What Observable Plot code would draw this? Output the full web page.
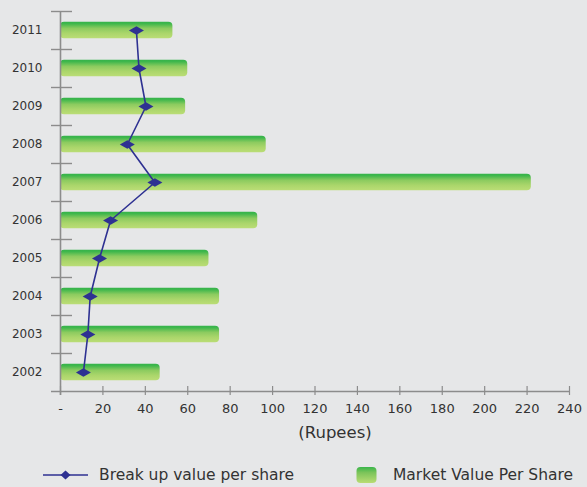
<!DOCTYPE html>
<html>
<head>
<meta charset="utf-8">
<script src="https://cdn.jsdelivr.net/npm/d3@7"></script>
<script src="https://cdn.jsdelivr.net/npm/@observablehq/plot@0.6"></script>
<style>
  html, body { margin: 0; padding: 0; background: #e6e7e8; }
  #wrap { position: relative; width: 587px; height: 487px; background: #e6e7e8; font-family: "DejaVu Sans", Verdana, sans-serif; color: #333; }
  #legend { position: absolute; left: 0; top: 462px; width: 587px; height: 25px; font-size: 15.5px; color: #333; }
  .li { position: absolute; top: 0; display: flex; align-items: center; height: 25px; }
</style>
</head>
<body>
<div id="wrap">
  <div id="chart"></div>
  <div id="legend">
    <div class="li" style="left:43px">
      <svg width="46" height="14" style="margin-right:10px"><line x1="0" y1="7" x2="45" y2="7" stroke="#2e3192" stroke-width="1.6"/><path d="M17.5,7L22.5,2.5L27.5,7L22.5,11.5Z" fill="#2e3192"/></svg>
      <span>Break up value per share</span>
    </div>
    <div class="li" style="left:356px">
      <svg width="21" height="18" style="margin-right:16px"><defs><linearGradient id="lg" x1="0" y1="0" x2="0" y2="1"><stop offset="0" stop-color="#39b54a"/><stop offset="0.35" stop-color="#7cc45a"/><stop offset="1" stop-color="#b9dc74"/></linearGradient></defs><rect x="0.5" y="1" width="20" height="16" rx="4" fill="url(#lg)"/></svg>
      <span>Market Value Per Share</span>
    </div>
  </div>
</div>
<script>
const years = [2002, 2003, 2004, 2005, 2006, 2007, 2008, 2009, 2010, 2011];
const marketValue = [47, 75, 75, 70, 93, 222, 97, 59, 60, 53];
const breakupValue = [10.8, 12.9, 14, 18.4, 23.6, 44.5, 31.5, 40.3, 37, 35.8];
const xTicks = [0, 20, 40, 60, 80, 100, 120, 140, 160, 180, 200, 220, 240];
const zeroLabel = "-";
const axisTitle = "(Rupees)";

const data = years.map((y, i) => ({year: y, market: marketValue[i], breakup: breakupValue[i]}));
const boundaries = [...years.map(y => y - 0.5), years[years.length - 1] + 0.5];

const flatDiamond = {
  draw(ctx, size) {
    const w = 7.5, h = 4.2;
    ctx.moveTo(-w, 0); ctx.lineTo(0, -h); ctx.lineTo(w, 0); ctx.lineTo(0, h); ctx.closePath();
  }
};

const gray = "#8c8c8c";
const plot = Plot.plot({
  width: 587,
  height: 455,
  marginLeft: 60,
  marginRight: 18,
  marginTop: 11,
  marginBottom: 64,
  style: {background: "#e6e7e8", fontFamily: "DejaVu Sans, Verdana, sans-serif", color: "#333"},
  x: {domain: [0, 240]},
  y: {domain: [boundaries[0], boundaries[boundaries.length - 1]]},
  marks: [
    Plot.rectX(data, {x1: 0, x2: "market", y1: d => d.year - 0.22, y2: d => d.year + 0.22, fill: "url(#barGrad)", rx: 4}),
    // y axis line and boundary ticks
    Plot.ruleX([0], {stroke: gray, strokeWidth: 1.6, insetBottom: -4}),
    Plot.ruleY(boundaries.slice(1), {x1: 0, x2: 0, insetLeft: -9, insetRight: -12, stroke: gray, strokeWidth: 1.4}),
    Plot.ruleY([boundaries[0]], {insetLeft: -9, stroke: gray, strokeWidth: 1.4}),
    Plot.ruleX(xTicks, {y1: boundaries[0], y2: boundaries[0], insetTop: -5, insetBottom: -4, stroke: gray, strokeWidth: 1.2}),
    Plot.axisY({ticks: years, tickSize: 0, tickPadding: 18, tickFormat: d => String(d), fontSize: 12, label: null}),
    Plot.axisX({ticks: xTicks, tickSize: 0, tickPadding: 12, tickFormat: d => d === 0 ? zeroLabel : String(d), fontSize: 13, label: null}),
    Plot.text([axisTitle], {frameAnchor: "bottom", dy: 46, dx: 20, fontSize: 16.5, fill: "#333"}),
    Plot.line(data, {x: "breakup", y: "year", stroke: "#2e3192", strokeWidth: 1.6}),
    Plot.dot(data, {x: "breakup", y: "year", symbol: flatDiamond, fill: "#2e3192", stroke: "none", r: 5})
  ]
});

const defs = document.createElementNS("http://www.w3.org/2000/svg", "defs");
defs.innerHTML = '<linearGradient id="barGrad" x1="0" y1="0" x2="0" y2="1">' +
  '<stop offset="0" stop-color="#34b34a"/><stop offset="0.12" stop-color="#3fb74c"/>' +
  '<stop offset="0.4" stop-color="#8ccb5f"/><stop offset="0.7" stop-color="#abd66b"/>' +
  '<stop offset="1" stop-color="#bbdd76"/></linearGradient>';
plot.insertBefore(defs, plot.firstChild);
document.getElementById("chart").appendChild(plot);
</script>
</body>
</html>
